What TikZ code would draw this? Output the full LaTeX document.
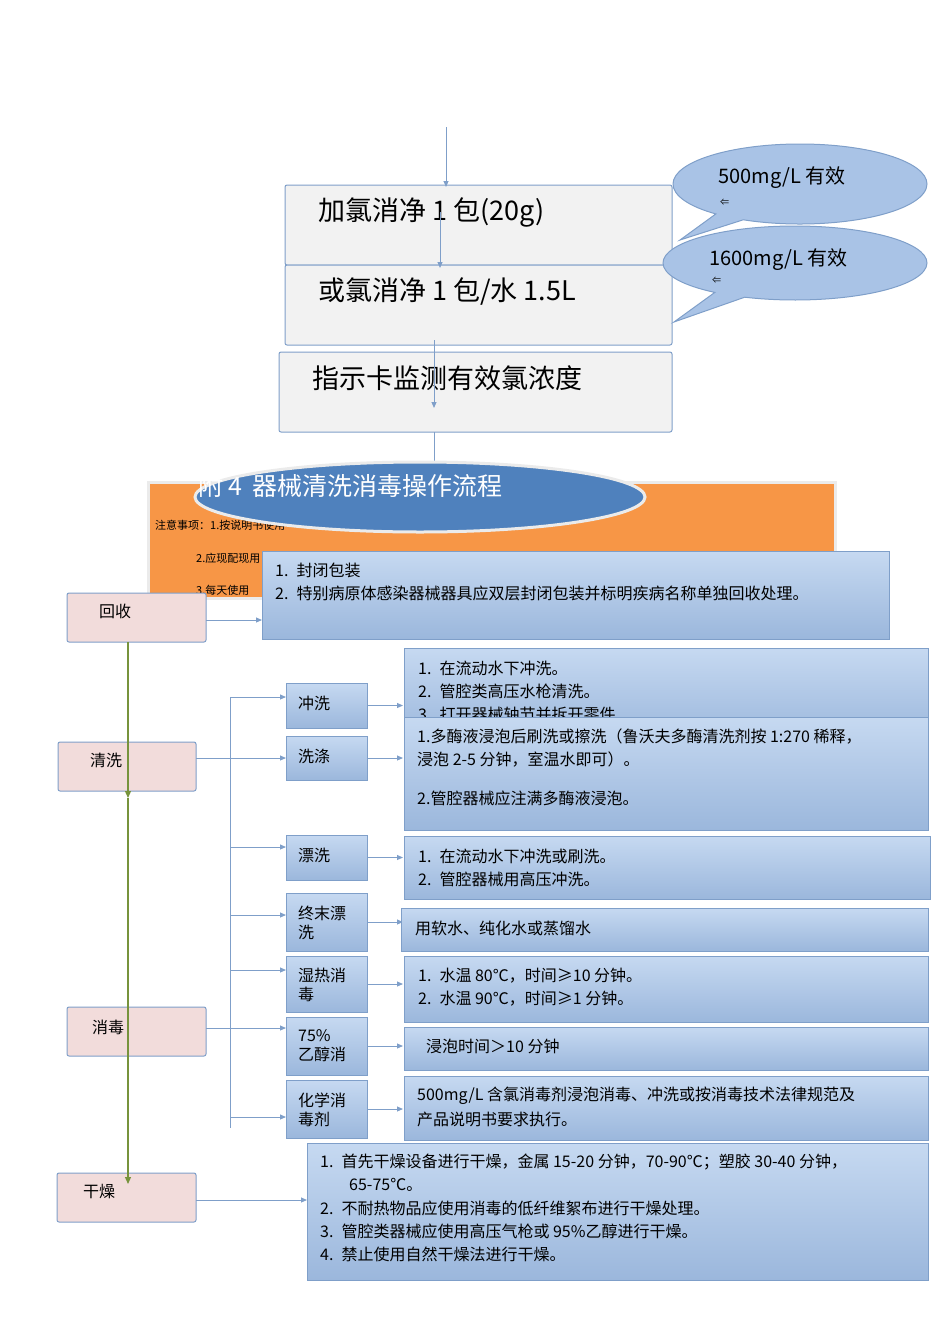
\documentclass[tikz,border=0pt]{standalone}
\usepackage{fontspec}
\setmainfont{Noto Sans CJK SC}
\usetikzlibrary{arrows.meta,shapes.callouts,shapes.geometric}
\definecolor{bd}{HTML}{7F9FC9}
\definecolor{pk}{HTML}{F2DCDB}
\definecolor{gr}{HTML}{77933C}
\definecolor{lb}{HTML}{C6D9F1}
\definecolor{mb}{HTML}{9BB7DC}
\definecolor{cb}{HTML}{A9C3E6}
\definecolor{tb}{HTML}{4F81BD}
\definecolor{og}{HTML}{F79646}
\begin{document}
\begin{tikzpicture}[x=1pt,y=-1pt,
 gbox/.style={draw=bd,fill=black!5,line width=1pt,rounded corners=2pt},
 pbox/.style={draw=bd,fill=pk,line width=1pt,rounded corners=2pt},
 bbox/.style={draw=bd,line width=1pt,top color=lb,bottom color=mb},
 tx/.style={anchor=west,inner sep=0pt,font=\fontsize{16}{16}\selectfont},
 ln/.style={draw=bd,line width=1pt},
 ar/.style={ln,-{Triangle[length=6pt,width=5pt]}},
 gar/.style={draw=gr,line width=1.2pt,-{Triangle[length=7pt,width=6pt]}}]
\useasboundingbox (0,0) rectangle (950,1344);
% top boxes
\draw[gbox] (285,185) rectangle (672,265);
\draw[gbox] (285,265) rectangle (672,345);
\draw[gbox] (279,352) rectangle (672,432);
\node[tx,font=\fontsize{27}{27}\selectfont] (t1) at (318,212) {加氯消净 1 包(20g)};
\node[tx,font=\fontsize{27}{27}\selectfont] (t2) at (318,292) {或氯消净 1 包/水 1.5L};
\node[tx,font=\fontsize{27}{27}\selectfont] (t3) at (312,378) {指示卡监测有效氯浓度};
\coordinate (a0) at (446,127); \coordinate (a1) at (446,187);
\draw[ar] (a0)--(a1);
\coordinate (b0) at (440,212); \coordinate (b1) at (440,268);
\draw[ar] (b0)--(b1);
\coordinate (c0) at (434,340); \coordinate (c1) at (434,408);
\draw[ar] (c0)--(c1);
\coordinate (d0) at (434,432); \coordinate (d1) at (434,462);
\draw[ln] (d0)--(d1);
% callouts
\node[ellipse callout,draw=bd,line width=1pt,fill=cb,minimum width=254pt,minimum height=80pt,callout absolute pointer={(680,240)}] (e1) at (800,184) {};
\node[tx,font=\fontsize{20}{20}\selectfont] (e1t) at (718,178) {500mg/L 有效};
\node[tx,font=\fontsize{9}{9}\selectfont] (e1s) at (720,202) {⇐};
\node[ellipse callout,draw=bd,line width=1pt,fill=cb,minimum width=264pt,minimum height=74pt,callout absolute pointer={(674,322)}] (e2) at (795,263) {};
\node[tx,font=\fontsize{20}{20}\selectfont] (e2t) at (709,260) {1600mg/L 有效};
\node[tx,font=\fontsize{9}{9}\selectfont] (e2s) at (712,280) {⇐};
% orange note
\draw[draw=black!8,line width=3pt,fill=og] (148,482) rectangle (835,598);
\node[tx,font=\fontsize{11}{11}\selectfont] (n1) at (155,525) {注意事项：1.按说明书使用};
\node[tx,font=\fontsize{11}{11}\selectfont] (n2) at (196,558) {2.应现配现用};
\node[tx,font=\fontsize{11}{11}\selectfont] (n3) at (196,590) {3.每天使用};
\node[ellipse,draw=black!8,line width=3pt,fill=tb,minimum width=450pt,minimum height=70pt] (ti) at (420,497) {};
\node[tx,text=white,font=\fontsize{25}{25}\selectfont] (tit) at (198,486) {附 4\hspace{10pt}器械清洗消毒操作流程};
% left column
\draw[pbox] (67,593) rectangle (206,642); \node[tx] (hs) at (99,611) {回收};
\draw[pbox] (58,742) rectangle (196,791); \node[tx] (qx) at (90,760) {清洗};
\draw[pbox] (67,1007) rectangle (206,1056); \node[tx] (xd) at (92,1027) {消毒};
\draw[pbox] (57,1173) rectangle (196,1222); \node[tx] (gz) at (83,1192) {干燥};
% recover box
\draw[bbox] (262,551) rectangle (889,639);
\node[tx] (r1) at (275,570) {1.\hspace{8pt}封闭包装};
\node[tx] (r2) at (275,593) {2.\hspace{8pt}特别病原体感染器械器具应双层封闭包装并标明疾病名称单独回收处理。};
\coordinate (h0) at (206,620); \coordinate (h1) at (262,620);
\draw[ar] (h0)--(h1);
% branch
\coordinate (v0) at (230,697); \coordinate (v1) at (230,1128);
\draw[ln] (v0)--(v1);
\coordinate (q0) at (196,758); \coordinate (q1) at (230,758);
\draw[ln] (q0)--(q1);
\coordinate (x0) at (206,1028); \coordinate (x1) at (230,1028);
\draw[ln] (x0)--(x1);
\foreach \ya/\yb/\ym/\na in {683/728/697/s1,736/780/758/s2,835/880/847/s3,893/951/915/s4,956/1012/970/s5,1017/1075/1028/s6,1080/1138/1117/s7}{
 \draw[bbox] (286,\ya) rectangle (367,\yb);
 \coordinate (\na l) at (230,\ym); \coordinate (\na r) at (286,\ym);
 \draw[ar] (\na l)--(\na r);
 \coordinate (\na o) at (367,{(\ya+\yb)/2}); \coordinate (\na p) at (403,{(\ya+\yb)/2});
 \draw[ar] (\na o)--(\na p);
}
\node[tx] (s1t) at (298,703) {冲洗};
\node[tx] (s2t) at (298,756) {洗涤};
\node[tx] (s3t) at (298,855) {漂洗};
\node[tx,align=left] (s4t) at (298,923) {终末漂\\[3pt]洗};
\node[tx,align=left] (s5t) at (298,985) {湿热消\\[3pt]毒};
\node[tx,align=left] (s6t) at (298,1046) {75\%\\[3pt]乙醇消};
\node[tx,align=left] (s7t) at (298,1110) {化学消\\[3pt]毒剂};
% detail boxes
\draw[bbox] (404,648) rectangle (928,740);
\node[tx] (d11) at (418,668) {1.\hspace{8pt}在流动水下冲洗。};
\node[tx] (d12) at (418,691) {2.\hspace{8pt}管腔类高压水枪清洗。};
\node[tx] (d13) at (418,714) {3.\hspace{8pt}打开器械轴节并拆开零件};
\draw[bbox] (404,717) rectangle (928,830);
\node[tx] (d21) at (417,736) {1.多酶液浸泡后刷洗或擦洗（鲁沃夫多酶清洗剂按 1:270 稀释，};
\node[tx] (d22) at (417,759) {浸泡 2-5 分钟，室温水即可）。};
\node[tx] (d23) at (417,798) {2.管腔器械应注满多酶液浸泡。};
\draw[bbox] (404,836) rectangle (930,899);
\node[tx] (d31) at (418,856) {1.\hspace{8pt}在流动水下冲洗或刷洗。};
\node[tx] (d32) at (418,879) {2.\hspace{8pt}管腔器械用高压冲洗。};
\draw[bbox] (401,908) rectangle (928,951);
\node[tx] (d41) at (415,928) {用软水、纯化水或蒸馏水};
\draw[bbox] (404,956) rectangle (928,1022);
\node[tx] (d51) at (418,976) {1.\hspace{8pt}水温 80℃，时间≥10 分钟。};
\node[tx] (d52) at (418,999) {2.\hspace{8pt}水温 90℃，时间≥1 分钟。};
\draw[bbox] (404,1027) rectangle (928,1070);
\node[tx] (d61) at (426,1046) {浸泡时间＞10 分钟};
\draw[bbox] (404,1076) rectangle (928,1140);
\node[tx] (d71) at (417,1096) {500mg/L 含氯消毒剂浸泡消毒、冲洗或按消毒技术法律规范及};
\node[tx] (d72) at (417,1119) {产品说明书要求执行。};
\draw[bbox] (307,1143) rectangle (928,1280);
\node[tx] (g1) at (320,1162) {1.\hspace{8pt}首先干燥设备进行干燥，金属 15-20 分钟，70-90℃；塑胶 30-40 分钟，};
\node[tx] (g1b) at (349,1185) {65-75℃。};
\node[tx] (g2) at (320,1208) {2.\hspace{8pt}不耐热物品应使用消毒的低纤维絮布进行干燥处理。};
\node[tx] (g3) at (320,1231) {3.\hspace{8pt}管腔类器械应使用高压气枪或 95\%乙醇进行干燥。};
\node[tx] (g4) at (320,1254) {4.\hspace{8pt}禁止使用自然干燥法进行干燥。};
\coordinate (z0) at (196,1200); \coordinate (z1) at (307,1200);
\draw[ar] (z0)--(z1);
% green main line
\coordinate (m0) at (128,642); \coordinate (m1) at (128,798); \coordinate (m2) at (128,1184);
\draw[gar] (m0)--(m1);
\draw[gar] (m1)--(m2);
\end{tikzpicture}
\end{document}
